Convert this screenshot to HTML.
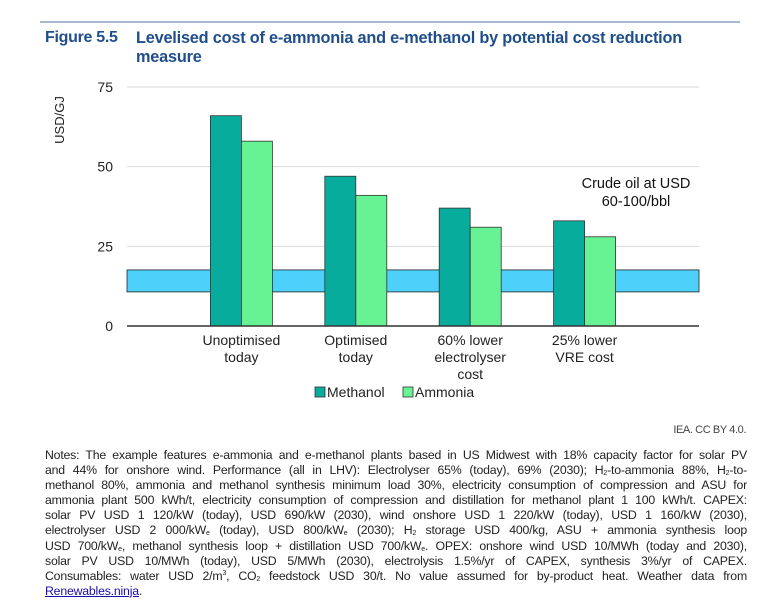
<!DOCTYPE html>
<html><head><meta charset="utf-8"><style>
body{margin:0;width:778px;height:606px;background:#fff;font-family:"Liberation Sans",sans-serif;position:relative;overflow:hidden}
.t{position:absolute}
#notes{position:absolute;left:45px;top:448px;width:702px;font-size:12.3px;line-height:15.1px;color:#222;letter-spacing:-0.2px}
#notes div{text-align:justify;text-align-last:justify;white-space:nowrap;height:15.1px}
#notes div.last{text-align-last:left}
#notes sub{font-size:7px;vertical-align:-1px;line-height:0}
#notes sup{font-size:7px;line-height:0}
</style></head><body>
<div style="position:absolute;left:40px;top:21px;width:700px;height:2px;background:#a9b8cc"></div>
<div class="t" style="left:45px;top:29px;font-size:16px;font-weight:bold;color:#1f4e8c;letter-spacing:-0.3px">Figure 5.5</div>
<div class="t" style="left:136px;top:29px;width:610px;font-size:16.3px;font-weight:bold;color:#1f4e8c;line-height:19px;letter-spacing:-0.2px">Levelised cost of e-ammonia and e-methanol by potential cost reduction<br>measure</div>
<svg id="chart" width="778" height="420" style="position:absolute;left:0;top:0"></svg>
<div class="t" style="right:32px;top:424px;font-size:11px;color:#444;letter-spacing:-0.4px">IEA. CC BY 4.0.</div>
<div id="notes">
<div>Notes: The example features e-ammonia and e-methanol plants based in US Midwest with 18% capacity factor for solar PV</div>
<div>and 44% for onshore wind. Performance (all in LHV): Electrolyser 65% (today), 69% (2030); H<sub>2</sub>-to-ammonia 88%, H<sub>2</sub>-to-</div>
<div>methanol 80%, ammonia and methanol synthesis minimum load 30%, electricity consumption of compression and ASU for</div>
<div>ammonia plant 500 kWh/t, electricity consumption of compression and distillation for methanol plant 1 100 kWh/t. CAPEX:</div>
<div>solar PV USD 1 120/kW (today), USD 690/kW (2030), wind onshore USD 1 220/kW (today), USD 1 160/kW (2030),</div>
<div>electrolyser USD 2 000/kW<sub>e</sub> (today), USD 800/kW<sub>e</sub> (2030); H<sub>2</sub> storage USD 400/kg, ASU + ammonia synthesis loop</div>
<div>USD 700/kW<sub>e</sub>, methanol synthesis loop + distillation USD 700/kW<sub>e</sub>. OPEX: onshore wind USD 10/MWh (today and 2030),</div>
<div>solar PV USD 10/MWh (today), USD 5/MWh (2030), electrolysis 1.5%/yr of CAPEX, synthesis 3%/yr of CAPEX.</div>
<div>Consumables: water USD 2/m<sup>3</sup>, CO<sub>2</sub> feedstock USD 30/t. No value assumed for by-product heat. Weather data from</div>
<div class="last"><span style="color:#1a0dab;text-decoration:underline">Renewables.ninja</span>.</div>
</div>
<script>
const categories=[["Unoptimised","today"],["Optimised","today"],["60% lower","electrolyser","cost"],["25% lower","VRE cost"]];
const methanol=[66,47,37,33];
const ammonia=[58,41,31,28];
const yTicks=[0,25,50,75];
const bandLow=10.7, bandHigh=17.6;
const NS="http://www.w3.org/2000/svg";
const svg=document.getElementById('chart');
const X0=127,X1=699,Y0=326,Y1=87,YMAX=75,SLOTS=5;
const y=v=>Y0-(v/YMAX)*(Y0-Y1);
const slot=(X1-X0)/SLOTS;
const cx=i=>X0+slot*(i+1);
const BW=31;
function mk(tag,attrs,parent){const e=document.createElementNS(NS,tag);for(const k in attrs)e.setAttribute(k,attrs[k]);(parent||svg).appendChild(e);return e;}
yTicks.forEach(t=>{
  if(t>0){const g=mk('line',{x1:X0,x2:X1,y1:y(t),y2:y(t),stroke:'#d9d9d9','stroke-width':1});
  
  }
  const l=mk('text',{x:113,y:y(t)+5,'text-anchor':'end','font-size':14,fill:'#222','font-family':'Liberation Sans'});
  l.textContent=t;
  
  
});
const yt=mk('text',{transform:'translate(64,120) rotate(-90)','text-anchor':'middle','font-size':13,fill:'#222','font-family':'Liberation Sans'});
yt.textContent='USD/GJ';


const band=mk('rect',{x:X0,y:y(bandHigh),width:X1-X0,height:y(bandLow)-y(bandHigh),fill:'#4dd0fa',stroke:'#222','stroke-width':0.8});


categories.forEach((c,i)=>{
  const m=mk('rect',{x:cx(i)-BW,y:y(methanol[i]),width:BW,height:Y0-y(methanol[i]),fill:'#07ac9c',stroke:'#333','stroke-width':0.8});
  
  
  const a=mk('rect',{x:cx(i),y:y(ammonia[i]),width:BW,height:Y0-y(ammonia[i]),fill:'#67f293',stroke:'#333','stroke-width':0.8});
  
  
  c.forEach((ln,k)=>{
    const t=mk('text',{x:cx(i),y:345+k*17,'text-anchor':'middle','font-size':14,fill:'#222','font-family':'Liberation Sans'});
    t.textContent=ln;
    
    
  });
});
const ax=mk('line',{x1:X0,x2:X1,y1:Y0,y2:Y0,stroke:'#333','stroke-width':1.5});


[['Crude oil at USD',188],['60-100/bbl',206]].forEach(([s,yy])=>{
  const t=mk('text',{x:636,y:yy,'text-anchor':'middle','font-size':14.5,fill:'#111','font-family':'Liberation Sans'});
  t.textContent=s;
  
  
});
[['Methanol','#07ac9c',315],['Ammonia','#67f293',403]].forEach(([s,c,x])=>{
  const r=mk('rect',{x:x,y:387,width:10,height:10,fill:c,stroke:'#333','stroke-width':0.8});
  
  
  const t=mk('text',{x:x+12,y:397,'font-size':14,fill:'#222','font-family':'Liberation Sans'});
  t.textContent=s;
  
  
});
</script>
</body></html>
